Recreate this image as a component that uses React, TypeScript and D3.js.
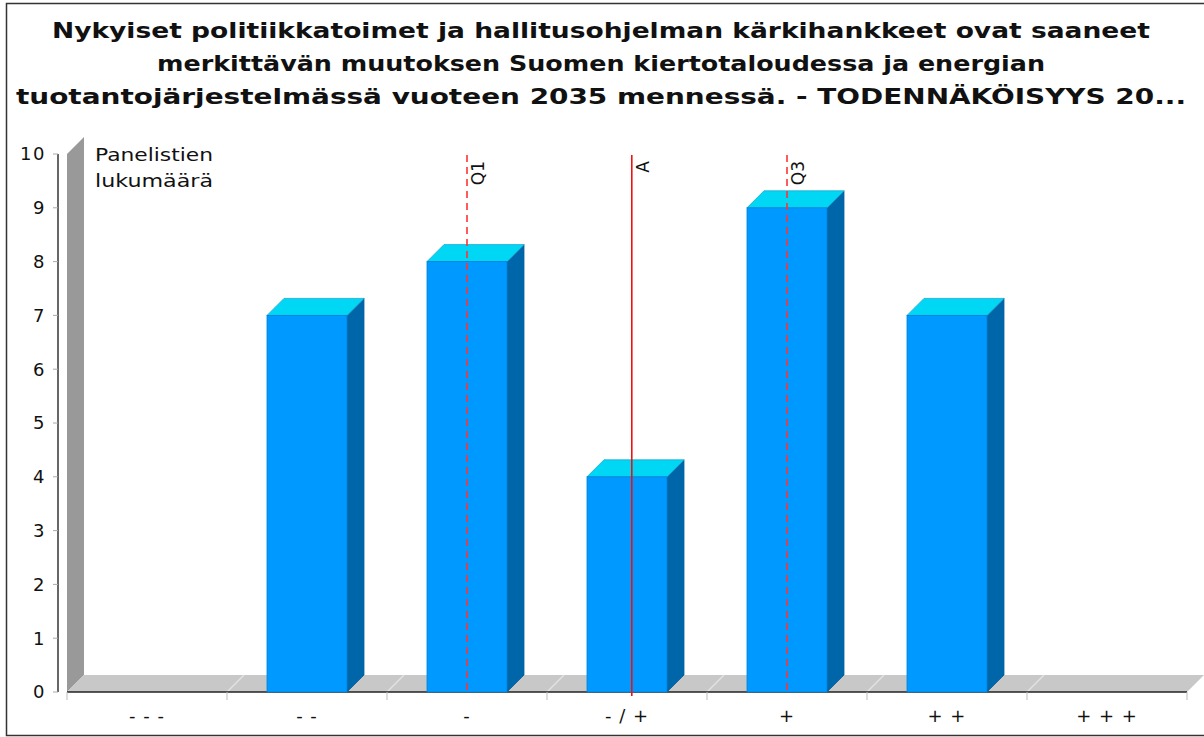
import * as d3 from "d3";

const titleLines = [
  "Nykyiset politiikkatoimet ja hallitusohjelman kärkihankkeet ovat saaneet",
  "merkittävän muutoksen Suomen kiertotaloudessa ja energian",
  "tuotantojärjestelmässä vuoteen 2035 mennessä. - TODENNÄKÖISYYS 20...",
];
const titleWidths = [1098, 888, 1170];
const categories = ["- - -", "- -", "-", "- / +", "+", "+ +", "+ + +"];
const counts = [0, 7, 8, 4, 9, 7, 0];
// statistics on the 1..7 answer scale
const markers = [
  { label: "Q1", value: 3, dashed: true },
  { label: "A", value: 4.03, dashed: false },
  { label: "Q3", value: 5, dashed: true },
];
const yTicks = [0, 1, 2, 3, 4, 5, 6, 7, 8, 9, 10];

const W = 1204;
const H = 737;
const left = 67;
const right = 1187;
const bottom = 692;
const top = 154;
const depth = 17;
const font = "DejaVu Sans, sans-serif";

export default function App() {
  const x = d3.scaleBand<string>().domain(categories).range([left, right]).paddingInner(0.5).paddingOuter(0.25);
  const xv = d3.scaleLinear().domain([0.5, 7.5]).range([left, right]);
  const y = d3.scaleLinear().domain([0, 10]).range([bottom, top]);
  const step = x.step();
  const bw = x.bandwidth();
  const boundaries = d3.range(categories.length + 1).map((i) => left + i * step);
  const pts = (p: number[][]) => p.map((q) => q.join(",")).join(" ");

  return (
    <svg width={W} height={H} style={{ position: "absolute", left: 0, top: 0 }} fontFamily={font}>
      <rect x={0} y={0} width={W} height={H} fill="#fff" />
      <rect x={6.5} y={3.5} width={W + 10} height={732} fill="none" stroke="#333" strokeWidth={1.5} />

      {titleLines.map((t, i) => (
        <text
          key={i}
          x={601}
          y={38 + i * 33}
          textAnchor="middle"
          fontSize={20.5}
          fontWeight="bold"
          fill="#111"
          textLength={titleWidths[i]}
          lengthAdjust="spacingAndGlyphs"
        >
          {t}
        </text>
      ))}

      {/* back wall */}
      <polygon
        points={pts([[left, bottom], [left, top], [left + depth, top - depth], [left + depth, bottom - depth]])}
        fill="#999"
      />
      {/* floor */}
      <polygon
        points={pts([[left, bottom], [right, bottom], [right + depth, bottom - depth], [left + depth, bottom - depth]])}
        fill="#c8c8c8"
      />
      {boundaries.slice(1, -1).map((b, i) => (
        <line key={i} x1={b} y1={bottom} x2={b + depth} y2={bottom - depth} stroke="#e4e4e4" strokeWidth={1.2} />
      ))}

      {/* y axis */}
      <line x1={58} y1={top} x2={58} y2={bottom} stroke="#000" strokeWidth={1.2} />
      {yTicks.map((t) => (
        <g key={t}>
          <line x1={53} x2={58} y1={y(t)} y2={y(t)} stroke="#aaa" />
          <text x={46} y={y(t)} dy="0.36em" textAnchor="end" fontSize={18} letterSpacing={1.5} fill="#111">
            {t}
          </text>
        </g>
      ))}
      <text x={95} y={161} fontSize={18.5} fill="#111" textLength={118} lengthAdjust="spacingAndGlyphs">
        Panelistien
      </text>
      <text x={95} y={187} fontSize={18.5} fill="#111" textLength={118} lengthAdjust="spacingAndGlyphs">
        lukumäärä
      </text>

      {/* x axis */}
      <line x1={left} x2={right} y1={bottom} y2={bottom} stroke="#222" strokeWidth={1.5} />
      {boundaries.map((b, i) => (
        <line key={i} x1={b} x2={b} y1={bottom} y2={bottom + 8} stroke="#bbb" />
      ))}
      {categories.map((c) => (
        <text
          key={c}
          x={(x(c) as number) + bw / 2}
          y={722}
          textAnchor="middle"
          fontSize={18}
          letterSpacing={1}
          fill="#111"
        >
          {c}
        </text>
      ))}

      {/* bars */}
      {categories.map((c, i) => {
        const v = counts[i];
        if (!v) return null;
        const x0 = x(c) as number;
        const yv = y(v);
        return (
          <g key={c}>
            <polygon
              points={pts([[x0 + bw, yv], [x0 + bw + depth, yv - depth], [x0 + bw + depth, bottom - depth], [x0 + bw, bottom]])}
              fill="#0066aa"
              stroke="#005f9e"
              strokeWidth={0.8}
            />
            <polygon
              points={pts([[x0, yv], [x0 + depth, yv - depth], [x0 + bw + depth, yv - depth], [x0 + bw, yv]])}
              fill="#00d7f5"
              stroke="#1aa8d0"
              strokeWidth={0.8}
            />
            <rect x={x0} y={yv} width={bw} height={bottom - yv} fill="#0099ff" stroke="#0080d8" strokeWidth={0.8} />
          </g>
        );
      })}

      {/* statistic markers */}
      {markers.map((m) => {
        const mx = xv(m.value);
        return (
          <g key={m.label}>
            <line
              x1={mx}
              x2={mx}
              y1={top + 1}
              y2={m.dashed ? bottom : bottom + 4}
              stroke={m.dashed ? "#ff3333" : "#ee1111"}
              strokeWidth={1.6}
              strokeDasharray={m.dashed ? "7,5" : undefined}
            />
            <text
              transform={`translate(${mx + 17},${161}) rotate(-90)`}
              textAnchor="end"
              fontSize={17}
              fill="#111"
            >
              {m.label}
            </text>
          </g>
        );
      })}
    </svg>
  );
}
